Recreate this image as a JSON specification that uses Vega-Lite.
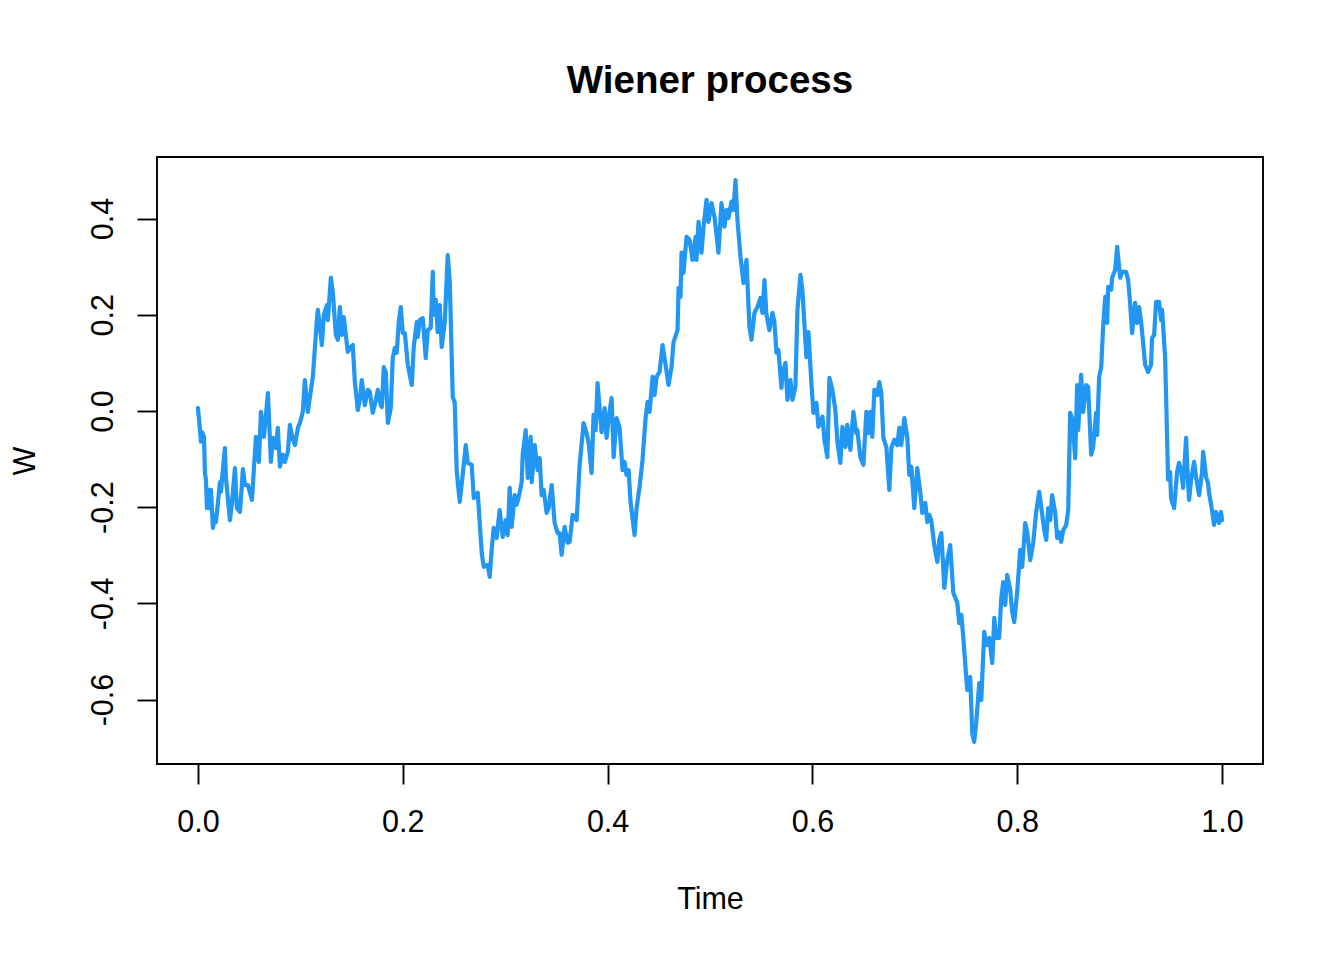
{
  "$schema": "https://vega.github.io/schema/vega-lite/v6.json",
  "autosize": {"type": "none"},
  "padding": {"left": 157, "top": 157, "right": 81, "bottom": 196},
  "width": 1106,
  "height": 607,
  "background": "white",
  "title": {"text": "Wiener process", "font": "Liberation Sans", "fontSize": 38.5, "fontWeight": "bold", "color": "black", "anchor": "middle", "baseline": "alphabetic", "offset": 26},
  "data": {"values": [
    {"t":0,"W":0.006},{"t":0.002,"W":-0.04},{"t":0.0029,"W":-0.064},{"t":0.0039,"W":-0.044},{"t":0.0059,"W":-0.054},{"t":0.0068,"W":-0.129},{"t":0.0078,"W":-0.143},{"t":0.0088,"W":-0.202},{"t":0.0107,"W":-0.164},{"t":0.0117,"W":-0.202},{"t":0.0127,"W":-0.164},{"t":0.0146,"W":-0.243},{"t":0.0166,"W":-0.216},{"t":0.0176,"W":-0.231},{"t":0.0215,"W":-0.148},{"t":0.0224,"W":-0.168},{"t":0.0263,"W":-0.077},{"t":0.0273,"W":-0.139},{"t":0.0312,"W":-0.227},{"t":0.0332,"W":-0.191},{"t":0.0361,"W":-0.119},{"t":0.038,"W":-0.202},{"t":0.041,"W":-0.21},{"t":0.0439,"W":-0.121},{"t":0.0459,"W":-0.154},{"t":0.0488,"W":-0.154},{"t":0.0527,"W":-0.185},{"t":0.0566,"W":-0.054},{"t":0.0595,"W":-0.106},{"t":0.0615,"W":-0.002},{"t":0.0644,"W":-0.054},{"t":0.0683,"W":0.037},{"t":0.0712,"W":-0.106},{"t":0.0732,"W":-0.056},{"t":0.0761,"W":-0.077},{"t":0.078,"W":-0.035},{"t":0.08,"W":-0.116},{"t":0.0829,"W":-0.091},{"t":0.0849,"W":-0.106},{"t":0.0878,"W":-0.085},{"t":0.0898,"W":-0.029},{"t":0.0927,"W":-0.06},{"t":0.0947,"W":-0.071},{"t":0.0976,"W":-0.035},
    {"t":0.0995,"W":-0.025},{"t":0.1024,"W":-0.002},{"t":0.1044,"W":0.064},{"t":0.1073,"W":-0.002},{"t":0.1093,"W":0.029},{"t":0.1122,"W":0.071},{"t":0.1161,"W":0.189},{"t":0.1171,"W":0.21},{"t":0.119,"W":0.175},{"t":0.121,"W":0.137},{"t":0.1229,"W":0.2},{"t":0.1259,"W":0.22},{"t":0.1268,"W":0.189},{"t":0.1298,"W":0.277},{"t":0.1317,"W":0.247},{"t":0.1346,"W":0.158},{"t":0.1366,"W":0.148},{"t":0.1385,"W":0.216},{"t":0.1405,"W":0.158},{"t":0.1424,"W":0.195},{"t":0.1444,"W":0.158},{"t":0.1463,"W":0.123},{"t":0.1493,"W":0.133},{"t":0.1512,"W":0.137},{"t":0.1532,"W":0.06},{"t":0.1561,"W":0.002},{"t":0.158,"W":0.023},{"t":0.16,"W":0.064},{"t":0.1629,"W":0.012},{"t":0.1659,"W":0.044},{"t":0.1678,"W":0.04},{"t":0.1707,"W":-0.004},{"t":0.1737,"W":0.023},{"t":0.1756,"W":0.044},{"t":0.1785,"W":0.012},
    {"t":0.1795,"W":0.008},{"t":0.1815,"W":0.091},{"t":0.1834,"W":0.081},{"t":0.1854,"W":-0.025},{"t":0.1883,"W":0.006},{"t":0.1902,"W":0.11},{"t":0.1922,"W":0.131},{"t":0.1941,"W":0.121},{"t":0.1961,"W":0.185},{"t":0.198,"W":0.216},{"t":0.2,"W":0.162},{"t":0.202,"W":0.162},{"t":0.2049,"W":0.096},{"t":0.2088,"W":0.054},{"t":0.2107,"W":0.133},{"t":0.2137,"W":0.185},{"t":0.2146,"W":0.154},{"t":0.2166,"W":0.189},{"t":0.2195,"W":0.193},{"t":0.2224,"W":0.11},{"t":0.2244,"W":0.168},{"t":0.2273,"W":0.173},{"t":0.2293,"W":0.289},{"t":0.2302,"W":0.2},{"t":0.2322,"W":0.231},{"t":0.2341,"W":0.164},{"t":0.2361,"W":0.22},{"t":0.238,"W":0.133},{"t":0.241,"W":0.185},{"t":0.2439,"W":0.324},{"t":0.2459,"W":0.268},{"t":0.2488,"W":0.029},{"t":0.2507,"W":0.017},{"t":0.2527,"W":-0.127},{"t":0.2556,"W":-0.189},{"t":0.2585,"W":-0.133},{"t":0.2615,"W":-0.071},{"t":0.2634,"W":-0.108},{"t":0.2673,"W":-0.112},{"t":0.2693,"W":-0.181},{"t":0.2722,"W":-0.175},
    {"t":0.2732,"W":-0.17},{"t":0.2771,"W":-0.295},{"t":0.279,"W":-0.324},{"t":0.2829,"W":-0.32},{"t":0.2849,"W":-0.345},{"t":0.2868,"W":-0.289},{"t":0.2888,"W":-0.243},{"t":0.2917,"W":-0.264},{"t":0.2946,"W":-0.206},{"t":0.2976,"W":-0.262},{"t":0.3005,"W":-0.227},{"t":0.3024,"W":-0.258},{"t":0.3044,"W":-0.16},{"t":0.3063,"W":-0.241},{"t":0.3093,"W":-0.175},{"t":0.3112,"W":-0.195},{"t":0.3132,"W":-0.179},{"t":0.3161,"W":-0.148},{"t":0.3171,"W":-0.091},{"t":0.32,"W":-0.04},{"t":0.322,"W":-0.139},{"t":0.3249,"W":-0.054},{"t":0.3259,"W":-0.148},{"t":0.3288,"W":-0.071},{"t":0.3317,"W":-0.123},{"t":0.3337,"W":-0.098},{"t":0.3356,"W":-0.175},{"t":0.3376,"W":-0.164},{"t":0.3405,"W":-0.212},{"t":0.3424,"W":-0.202},{"t":0.3454,"W":-0.154},{"t":0.3483,"W":-0.233},{"t":0.3512,"W":-0.254},{"t":0.3532,"W":-0.254},{"t":0.3551,"W":-0.299},{"t":0.358,"W":-0.241},{"t":0.361,"W":-0.274},{"t":0.3629,"W":-0.272},{"t":0.3659,"W":-0.216},
    {"t":0.3698,"W":-0.227},{"t":0.3727,"W":-0.112},{"t":0.3766,"W":-0.025},{"t":0.3795,"W":-0.046},{"t":0.3815,"W":-0.067},{"t":0.3844,"W":-0.129},{"t":0.3863,"W":-0.008},{"t":0.3883,"W":-0.04},{"t":0.3902,"W":0.058},{"t":0.3941,"W":-0.044},{"t":0.3971,"W":0.006},{"t":0.399,"W":-0.056},{"t":0.401,"W":-0.015},{"t":0.4039,"W":0.027},{"t":0.4059,"W":-0.096},{"t":0.4088,"W":-0.015},{"t":0.4117,"W":-0.035},{"t":0.4146,"W":-0.123},{"t":0.4166,"W":-0.106},{"t":0.4185,"W":-0.133},{"t":0.4205,"W":-0.123},{"t":0.4224,"W":-0.189},{"t":0.4263,"W":-0.258},{"t":0.4283,"W":-0.202},{"t":0.4312,"W":-0.158},{"t":0.4341,"W":-0.102},{"t":0.4371,"W":-0.015},{"t":0.439,"W":0.019},{"t":0.441,"W":-0.002},{"t":0.4439,"W":0.071},{"t":0.4459,"W":0.033},{"t":0.4478,"W":0.071},{"t":0.4507,"W":0.081},
    {"t":0.4537,"W":0.137},{"t":0.4566,"W":0.096},{"t":0.4595,"W":0.054},{"t":0.4624,"W":0.091},{"t":0.4644,"W":0.143},{"t":0.4683,"W":0.168},{"t":0.4693,"W":0.256},{"t":0.4712,"W":0.237},{"t":0.4722,"W":0.329},{"t":0.4741,"W":0.287},{"t":0.4771,"W":0.362},{"t":0.48,"W":0.356},{"t":0.4829,"W":0.314},{"t":0.4859,"W":0.362},{"t":0.4868,"W":0.314},{"t":0.4888,"W":0.393},{"t":0.4917,"W":0.329},{"t":0.4937,"W":0.383},{"t":0.4966,"W":0.439},{"t":0.4985,"W":0.393},{"t":0.5015,"W":0.432},{"t":0.5044,"W":0.403},{"t":0.5083,"W":0.329},{"t":0.5112,"W":0.432},{"t":0.5141,"W":0.383},{"t":0.5161,"W":0.418},{"t":0.518,"W":0.401},{"t":0.521,"W":0.435},{"t":0.5229,"W":0.418},{"t":0.5249,"W":0.48},{"t":0.5268,"W":0.397},{"t":0.5298,"W":0.32},{"t":0.5327,"W":0.266},{"t":0.5356,"W":0.314},{"t":0.5385,"W":0.175},{"t":0.5405,"W":0.148},{"t":0.5434,"W":0.204},{"t":0.5463,"W":0.216},{"t":0.5493,"W":0.235},{"t":0.5512,"W":0.204},{"t":0.5532,"W":0.272},
    {"t":0.5551,"W":0.2},{"t":0.558,"W":0.168},{"t":0.561,"W":0.204},{"t":0.5629,"W":0.185},{"t":0.5649,"W":0.121},{"t":0.5668,"W":0.127},{"t":0.5698,"W":0.048},{"t":0.5707,"W":0.075},{"t":0.5737,"W":0.1},{"t":0.5756,"W":0.023},{"t":0.5785,"W":0.064},{"t":0.5805,"W":0.023},{"t":0.5834,"W":0.05},{"t":0.5854,"W":0.21},{"t":0.5883,"W":0.283},{"t":0.5902,"W":0.252},{"t":0.5941,"W":0.112},{"t":0.5961,"W":0.164},{"t":0.599,"W":0.058},{"t":0.601,"W":-0.004},{"t":0.6039,"W":0.017},{"t":0.6059,"W":-0.033},{"t":0.6098,"W":-0.012},{"t":0.6117,"W":-0.06},{"t":0.6146,"W":-0.096},{"t":0.6166,"W":0.069},{"t":0.6195,"W":0.044},{"t":0.6224,"W":0.002},{"t":0.6244,"W":-0.064},{"t":0.6273,"W":-0.108},{"t":0.6293,"W":-0.033},{"t":0.6322,"W":-0.075},{"t":0.6341,"W":-0.029},{"t":0.6371,"W":-0.081},{"t":0.64,"W":-0.002},{"t":0.6429,"W":-0.046},
    {"t":0.6439,"W":-0.04},{"t":0.6468,"W":-0.096},{"t":0.6498,"W":-0.112},{"t":0.6527,"W":-0.002},{"t":0.6546,"W":-0.046},{"t":0.6566,"W":-0.002},{"t":0.6585,"W":-0.054},{"t":0.6605,"W":0.044},{"t":0.6634,"W":0.033},{"t":0.6654,"W":0.06},{"t":0.6673,"W":0.037},{"t":0.6693,"W":-0.056},{"t":0.6722,"W":-0.075},{"t":0.6751,"W":-0.164},{"t":0.6771,"W":-0.077},{"t":0.68,"W":-0.06},{"t":0.6829,"W":-0.071},{"t":0.6849,"W":-0.035},{"t":0.6868,"W":-0.071},{"t":0.6898,"W":-0.015},{"t":0.6927,"W":-0.056},{"t":0.6946,"W":-0.133},{"t":0.6966,"W":-0.116},{"t":0.6995,"W":-0.202},{"t":0.7024,"W":-0.119},{"t":0.7054,"W":-0.17},{"t":0.7073,"W":-0.212},{"t":0.7102,"W":-0.191},{"t":0.7122,"W":-0.231},{"t":0.7141,"W":-0.216},{"t":0.7161,"W":-0.227},{"t":0.719,"W":-0.279},{"t":0.722,"W":-0.314},{"t":0.7239,"W":-0.268},{"t":0.7259,"W":-0.254},{"t":0.7288,"W":-0.368},{"t":0.7317,"W":-0.31},{"t":0.7346,"W":-0.279},{"t":0.7376,"W":-0.378},
    {"t":0.7415,"W":-0.399},{"t":0.7434,"W":-0.441},{"t":0.7454,"W":-0.424},{"t":0.7473,"W":-0.47},{"t":0.7502,"W":-0.553},{"t":0.7512,"W":-0.58},{"t":0.7541,"W":-0.553},{"t":0.7561,"W":-0.67},{"t":0.758,"W":-0.688},{"t":0.76,"W":-0.647},{"t":0.7629,"W":-0.566},{"t":0.7649,"W":-0.601},{"t":0.7678,"W":-0.459},{"t":0.7698,"W":-0.487},{"t":0.7727,"W":-0.472},{"t":0.7756,"W":-0.524},{"t":0.7776,"W":-0.43},{"t":0.7795,"W":-0.472},{"t":0.7824,"W":-0.472},{"t":0.7844,"W":-0.389},{"t":0.7863,"W":-0.356},{"t":0.7883,"W":-0.403},{"t":0.7902,"W":-0.341},{"t":0.7932,"W":-0.372},{"t":0.7951,"W":-0.418},{"t":0.7971,"W":-0.439},{"t":0.8,"W":-0.376},{"t":0.8029,"W":-0.289},{"t":0.8049,"W":-0.324},{"t":0.8078,"W":-0.233},{"t":0.8098,"W":-0.252},{"t":0.8127,"W":-0.31},{"t":0.8156,"W":-0.274},{"t":0.8185,"W":-0.21},{"t":0.8215,"W":-0.168},{"t":0.8244,"W":-0.216},
    {"t":0.8263,"W":-0.247},{"t":0.8283,"W":-0.268},{"t":0.8302,"W":-0.202},{"t":0.8322,"W":-0.227},{"t":0.8341,"W":-0.175},{"t":0.8371,"W":-0.212},{"t":0.839,"W":-0.264},{"t":0.841,"W":-0.252},{"t":0.8429,"W":-0.272},{"t":0.8449,"W":-0.248},{"t":0.8478,"W":-0.237},{"t":0.8498,"W":-0.206},{"t":0.8517,"W":-0.004},{"t":0.8537,"W":-0.015},{"t":0.8566,"W":-0.098},{"t":0.8585,"W":0.054},{"t":0.8595,"W":-0.04},{"t":0.8624,"W":0.075},{"t":0.8644,"W":-0.002},{"t":0.8673,"W":0.054},{"t":0.8693,"W":0.05},{"t":0.8722,"W":-0.091},{"t":0.8741,"W":-0.075},{"t":0.8771,"W":-0.004},{"t":0.878,"W":-0.05},{"t":0.88,"W":0.071},{"t":0.882,"W":0.091},{"t":0.8839,"W":0.175},{"t":0.8859,"W":0.237},{"t":0.8878,"W":0.183},{"t":0.8888,"W":0.258},{"t":0.8917,"W":0.252},{"t":0.8927,"W":0.277},{"t":0.8956,"W":0.293},{"t":0.8976,"W":0.341},{"t":0.9005,"W":0.277},{"t":0.9024,"W":0.289},{"t":0.9063,"W":0.289},{"t":0.9083,"W":0.272},{"t":0.9102,"W":0.225},{"t":0.9122,"W":0.162},{"t":0.9151,"W":0.225},{"t":0.9171,"W":0.183},{"t":0.919,"W":0.216},{"t":0.921,"W":0.185},{"t":0.9229,"W":0.143},
    {"t":0.9249,"W":0.096},{"t":0.9278,"W":0.081},{"t":0.9307,"W":0.096},{"t":0.9317,"W":0.152},{"t":0.9337,"W":0.158},{"t":0.9356,"W":0.227},{"t":0.9385,"W":0.227},{"t":0.9405,"W":0.189},{"t":0.9415,"W":0.21},{"t":0.9444,"W":0.112},{"t":0.9454,"W":0.029},{"t":0.9473,"W":-0.143},{"t":0.9493,"W":-0.127},{"t":0.9502,"W":-0.181},{"t":0.9532,"W":-0.202},{"t":0.9561,"W":-0.127},{"t":0.958,"W":-0.108},{"t":0.96,"W":-0.123},{"t":0.962,"W":-0.16},{"t":0.9649,"W":-0.056},{"t":0.9659,"W":-0.108},{"t":0.9678,"W":-0.185},{"t":0.9698,"W":-0.143},{"t":0.9727,"W":-0.106},{"t":0.9746,"W":-0.137},{"t":0.9776,"W":-0.175},{"t":0.9805,"W":-0.127},{"t":0.9815,"W":-0.085},{"t":0.9844,"W":-0.137},{"t":0.9863,"W":-0.15},{"t":0.9873,"W":-0.17},{"t":0.9902,"W":-0.206},{"t":0.9922,"W":-0.237},{"t":0.9941,"W":-0.21},{"t":0.9971,"W":-0.233},{"t":0.999,"W":-0.21},{"t":1,"W":-0.227}
  ]},
  "mark": {"type": "line", "color": "#2196F3", "strokeWidth": 4.2, "strokeJoin": "round", "strokeCap": "round", "clip": true},
  "encoding": {
    "x": {"field": "t", "type": "quantitative", "title": "Time",
      "scale": {"domain": [-0.04, 1.04], "nice": false, "zero": false},
      "axis": {"values": [0, 0.2, 0.4, 0.6, 0.8, 1.0], "labelExpr": "format(datum.value, '.1f')", "labelBaseline": "alphabetic", "labelPadding": 47, "titleBaseline": "alphabetic", "titleX": 553, "titleY": 144, "titleAnchor": "middle"}},
    "y": {"field": "W", "type": "quantitative", "title": "W",
      "scale": {"domain": [-0.734, 0.528], "nice": false, "zero": false},
      "axis": {"values": [-0.6, -0.4, -0.2, 0, 0.2, 0.4], "labelExpr": "replace(format(datum.value, '.1f'), '\u2212', '-')", "labelAngle": 270, "labelAlign": "center", "labelBaseline": "alphabetic", "labelPadding": 25, "titleAngle": 270, "titleBaseline": "alphabetic", "titleAlign": "center", "titleX": -123, "titleY": 303.5}}
  },
  "config": {
    "view": {"stroke": "black", "strokeWidth": 1.9},
    "axis": {"grid": false, "domain": false, "ticks": true, "tickColor": "black", "tickWidth": 1.9, "tickSize": 20,
      "labelFont": "Liberation Sans", "labelFontSize": 30.5, "labelColor": "black",
      "titleFont": "Liberation Sans", "titleFontSize": 30.5, "titleFontWeight": "normal", "titleColor": "black"}
  }
}
